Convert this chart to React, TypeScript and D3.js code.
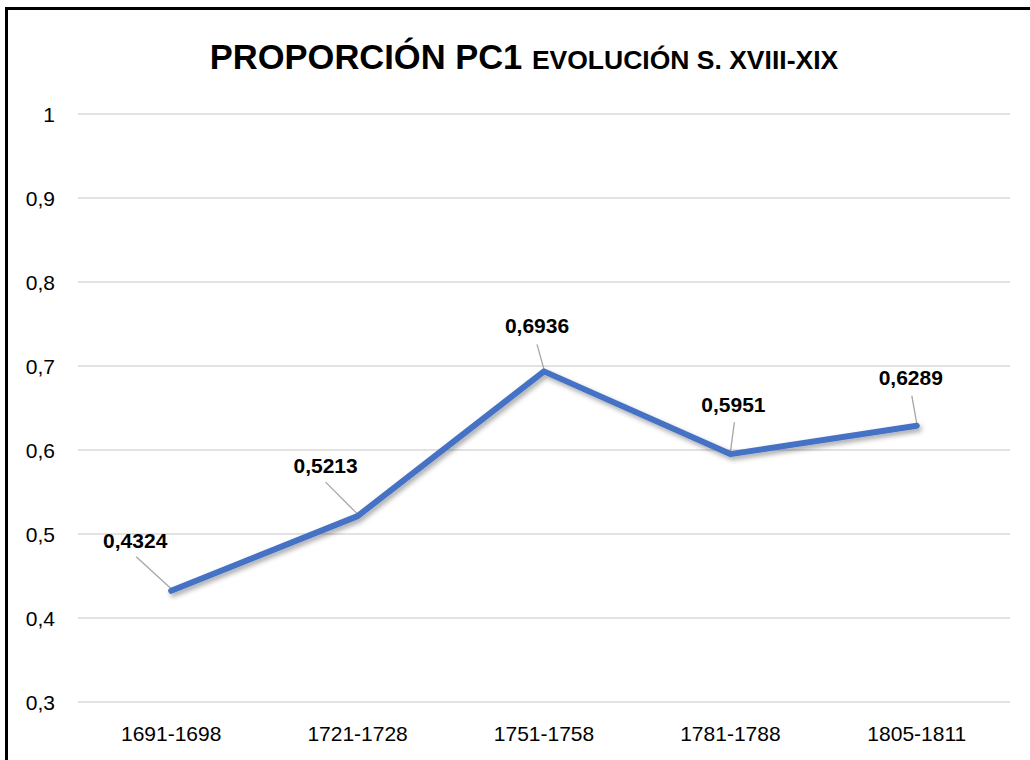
import React, { useEffect, useRef } from "react";
import * as d3 from "d3";

const periods = ["1691-1698", "1721-1728", "1751-1758", "1781-1788", "1805-1811"];
const pc1Values = [0.4324, 0.5213, 0.6936, 0.5951, 0.6289];
const yTicks = [0.3, 0.4, 0.5, 0.6, 0.7, 0.8, 0.9, 1];

// where each data label sits relative to its point (text centre / baseline, leader start)
const labelOffsets = [
  { tx: -36, ty: -43, lx: -35, ly: -34 },
  { tx: -32, ty: -43, lx: -32, ly: -34 },
  { tx: -7, ty: -38, lx: -7, ly: -27 },
  { tx: 3, ty: -42, lx: 4, ly: -32 },
  { tx: -6, ty: -41, lx: -5, ly: -30 },
];

const esLocale = d3.formatLocale({
  decimal: ",",
  thousands: ".",
  grouping: [3],
  currency: ["", " €"],
});

const FONT = "'Liberation Sans', Arial, sans-serif";

const App = () => {
  const chartRef = useRef<SVGSVGElement>(null);

  useEffect(() => {
    const width = 1030;
    const height = 760;

    const svg = d3.select(chartRef.current);
    svg.selectAll("*").remove();
    svg.attr("width", width).attr("height", height);

    // drop shadow for the line
    const defs = svg.append("defs");
    defs
      .append("filter")
      .attr("id", "lineShadow")
      .attr("x", "-10%")
      .attr("y", "-10%")
      .attr("width", "120%")
      .attr("height", "130%")
      .append("feDropShadow")
      .attr("dx", 2)
      .attr("dy", 3)
      .attr("stdDeviation", 2.5)
      .attr("flood-color", "#000")
      .attr("flood-opacity", 0.35);

    svg.append("rect").attr("width", width).attr("height", height).attr("fill", "#fff");

    // chart frame (right / bottom edges cut off)
    svg
      .append("rect")
      .attr("x", 6.5)
      .attr("y", 8.5)
      .attr("width", width + 20)
      .attr("height", height + 20)
      .attr("fill", "none")
      .attr("stroke", "#000")
      .attr("stroke-width", 3);

    const x = d3.scaleBand().domain(periods).range([78, 1010]).padding(0);
    const cx = (p: string) => (x(p) ?? 0) + x.bandwidth() / 2;
    const y = d3.scaleLinear().domain([0.3, 1]).range([702, 114]);

    // title
    const title = svg
      .append("text")
      .attr("x", 524)
      .attr("y", 69)
      .attr("text-anchor", "middle")
      .attr("font-family", FONT)
      .attr("font-weight", "bold")
      .attr("fill", "#000");
    title.append("tspan").attr("font-size", 34.5).text("PROPORCIÓN PC1 ");
    title.append("tspan").attr("font-size", 26.5).text("EVOLUCIÓN S. XVIII-XIX");

    // gridlines
    svg
      .append("g")
      .selectAll("line")
      .data(yTicks)
      .join("line")
      .attr("x1", 78)
      .attr("x2", 1010)
      .attr("y1", (d) => y(d))
      .attr("y2", (d) => y(d))
      .attr("stroke", "#d9d9d9")
      .attr("stroke-width", 1.5);

    // y tick labels
    const yFmt = esLocale.format(".1~f");
    svg
      .append("g")
      .selectAll("text")
      .data(yTicks)
      .join("text")
      .attr("x", 55)
      .attr("y", (d) => y(d) + 7.5)
      .attr("text-anchor", "end")
      .attr("font-family", FONT)
      .attr("font-size", 21)
      .attr("fill", "#000")
      .text((d) => yFmt(d));

    // x tick labels
    svg
      .append("g")
      .selectAll("text")
      .data(periods)
      .join("text")
      .attr("x", (d) => cx(d))
      .attr("y", 741)
      .attr("text-anchor", "middle")
      .attr("font-family", FONT)
      .attr("font-size", 21)
      .attr("fill", "#000")
      .text((d) => d);

    const points = periods.map((p, i) => ({ p, v: pc1Values[i], off: labelOffsets[i] }));

    // leader lines
    svg
      .append("g")
      .selectAll("line")
      .data(points)
      .join("line")
      .attr("x1", (d) => cx(d.p) + d.off.lx)
      .attr("y1", (d) => y(d.v) + d.off.ly)
      .attr("x2", (d) => cx(d.p))
      .attr("y2", (d) => y(d.v) - 2)
      .attr("stroke", "#a6a6a6")
      .attr("stroke-width", 1.3);

    // the series line
    const line = d3
      .line<{ p: string; v: number }>()
      .x((d) => cx(d.p))
      .y((d) => y(d.v));

    svg
      .append("path")
      .datum(points)
      .attr("d", line)
      .attr("fill", "none")
      .attr("stroke", "#4472c4")
      .attr("stroke-width", 6)
      .attr("stroke-linejoin", "round")
      .attr("stroke-linecap", "round")
      .attr("filter", "url(#lineShadow)");

    // data labels
    const vFmt = esLocale.format(".4f");
    svg
      .append("g")
      .selectAll("text")
      .data(points)
      .join("text")
      .attr("x", (d) => cx(d.p) + d.off.tx)
      .attr("y", (d) => y(d.v) + d.off.ty)
      .attr("text-anchor", "middle")
      .attr("font-family", FONT)
      .attr("font-size", 21)
      .attr("font-weight", "bold")
      .attr("fill", "#000")
      .text((d) => vFmt(d.v));
  }, []);

  return (
    <div style={{ position: "fixed", left: 0, top: 0 }}>
      <svg ref={chartRef} style={{ display: "block" }}></svg>
    </div>
  );
};

export default App;
